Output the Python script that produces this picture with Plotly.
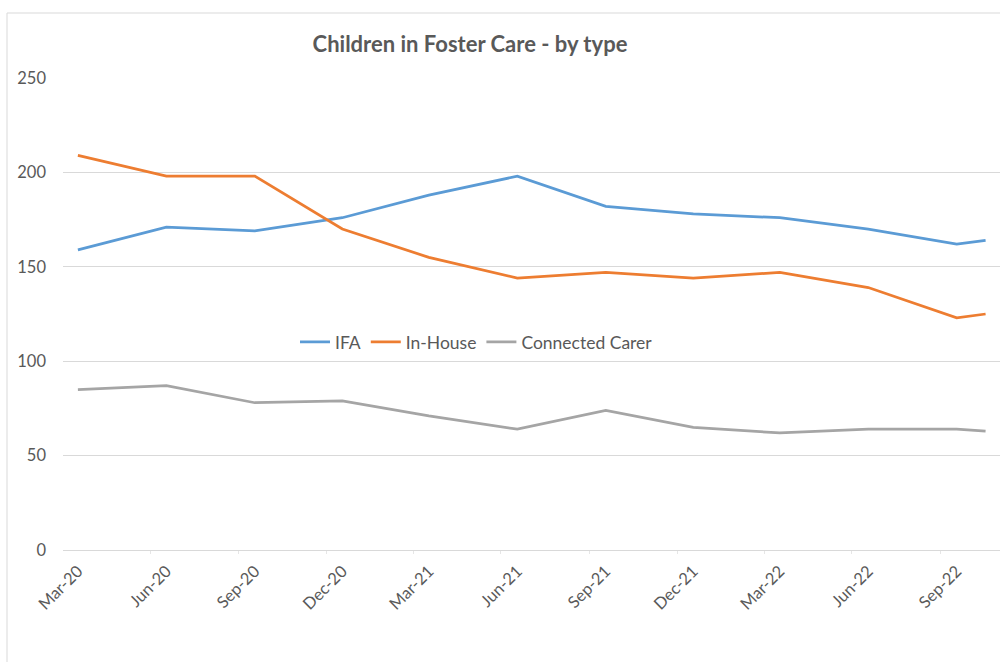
import plotly.graph_objects as go

# ---- data ----
dates = ["2020-03-01", "2020-06-01", "2020-09-01", "2020-12-01", "2021-03-01", "2021-06-01",
         "2021-09-01", "2021-12-01", "2022-03-01", "2022-06-01", "2022-09-01", "2022-10-01"]
ifa = [159, 171, 169, 176, 188, 198, 182, 178, 176, 170, 162, 164]
in_house = [209, 198, 198, 170, 155, 144, 147, 144, 147, 139, 123, 125]
connected = [85, 87, 78, 79, 71, 64, 74, 65, 62, 64, 64, 63]

tick_dates = dates[:11]
tick_text = ["Mar-20", "Jun-20", "Sep-20", "Dec-20", "Mar-21", "Jun-21",
             "Sep-21", "Dec-21", "Mar-22", "Jun-22", "Sep-22"]
tick_mark_dates = ["2020-02-14", "2020-05-15", "2020-08-15", "2020-11-15", "2021-02-13", "2021-05-15",
                   "2021-08-15", "2021-11-15", "2022-02-13", "2022-05-15", "2022-08-15"]

# ---- layout geometry (pixels) ----
W, H = 1000, 662
PL, PR, PT, PB = 63, 1000, 78, 550
def px(x):
    return (x - PL) / (PR - PL)
def py(y):
    return (PB - y) / (PB - PT)

TXT = "#595959"
GRID = "#d9d9d9"
FONT = "Lato, 'Open Sans', sans-serif"
FS = 16.5

fig = go.Figure()
fig.add_trace(go.Scatter(x=dates, y=ifa, name="IFA", mode="lines",
                         line=dict(color="#5b9bd5", width=2.75)))
fig.add_trace(go.Scatter(x=dates, y=in_house, name="In-House", mode="lines",
                         line=dict(color="#ed7d31", width=2.75)))
fig.add_trace(go.Scatter(x=dates, y=connected, name="Connected Carer", mode="lines",
                         line=dict(color="#a5a5a5", width=2.75)))
# invisible helper trace to carry the tick-mark axis
fig.add_trace(go.Scatter(x=[dates[0]], y=[None], xaxis="x2", showlegend=False,
                         hoverinfo="skip", mode="lines"))

xr = ["2020-02-14 12:00", "2022-10-16"]
fig.update_layout(
    width=W, height=H,
    margin=dict(l=PL, r=W - PR, t=PT, b=H - PB, pad=0),
    paper_bgcolor="white", plot_bgcolor="white",
    font=dict(family=FONT, color=TXT, size=FS),
    title=dict(text="<b>Children in Foster Care - by type</b>",
               x=470 / W, xref="container", xanchor="center",
               y=1 - 44 / H, yref="container", yanchor="middle",
               font=dict(family=FONT, size=22, color=TXT)),
    xaxis=dict(type="date", range=xr, tickmode="array", tickvals=tick_dates,
               ticktext=tick_text, tickangle=-45, showgrid=False,
               showline=True, linecolor=GRID, linewidth=1, ticks="",
               tickfont=dict(size=FS, color=TXT), ticklabelstandoff=4,
               zeroline=False),
    xaxis2=dict(type="date", range=xr, overlaying="x", anchor="y", side="bottom",
                tickmode="array", tickvals=tick_mark_dates, showticklabels=False,
                ticks="outside", ticklen=3, tickcolor="#e6e6e6", showgrid=False,
                showline=False, zeroline=False),
    yaxis=dict(range=[0, 250], dtick=50, showgrid=True, gridcolor=GRID, gridwidth=1,
               zeroline=False, showline=False, ticks="",
               tickfont=dict(size=FS, color=TXT), ticklabelstandoff=16),
    legend=dict(orientation="h", x=px(295), xanchor="left", y=py(342), yanchor="middle",
                bgcolor="rgba(255,255,255,0)", font=dict(size=17.5, color=TXT),
                itemwidth=30),
    shapes=[
        dict(type="line", xref="paper", yref="paper", x0=px(7), x1=px(7), y0=py(13), y1=py(H + 5),
             line=dict(color=GRID, width=1)),
        dict(type="line", xref="paper", yref="paper", x0=px(7), x1=px(W + 5), y0=py(13), y1=py(13),
             line=dict(color=GRID, width=1)),
    ],
)

fig.write_html("out.html")
